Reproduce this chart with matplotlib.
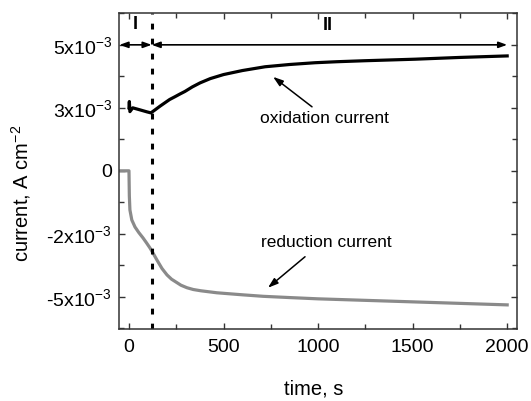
import numpy as np
import matplotlib
matplotlib.use('Agg')
import matplotlib.pyplot as plt
from matplotlib.ticker import MultipleLocator, FixedLocator

plt.rcParams['font.family'] = ['Liberation Sans', 'DejaVu Sans']
plt.rcParams['mathtext.fontset'] = 'custom'
plt.rcParams['mathtext.rm'] = 'Liberation Sans'
plt.rcParams['mathtext.default'] = 'rm'
plt.rcParams['lines.scale_dashes'] = False

# oxidation current (black), in 1e-3 A cm^-2
ox_t = [0, 2, 5, 20, 58, 95, 116, 138, 165, 190, 215, 243, 270, 296, 335, 376, 430, 500, 600,
        720, 850, 984, 1100, 1250, 1513, 1750, 2000]
ox_v = [2.5, 2.75, 2.35, 2.5, 2.42, 2.34, 2.30, 2.42, 2.57, 2.7, 2.83, 2.94, 3.05, 3.15, 3.33,
        3.49, 3.66, 3.82, 3.98, 4.13, 4.22, 4.29, 4.33, 4.37, 4.43, 4.50, 4.56]

# reduction current (gray)
red_t = [-48, 0, 2, 5, 15, 32, 52, 74, 92, 111, 130, 148, 175, 201, 225, 250, 275, 307, 340,
         380, 465, 600, 710, 850, 1000, 1250, 1500, 1750, 2000]
red_v = [0, 0, -1.0, -1.55, -1.95, -2.23, -2.45, -2.66, -2.85, -3.06, -3.3, -3.54, -3.88,
         -4.13, -4.3, -4.42, -4.54, -4.64, -4.71, -4.76, -4.84, -4.92, -4.98, -5.03, -5.08,
         -5.14, -5.2, -5.26, -5.32]

t_switch = 120
y_ticks = [-5e-3, -2.5e-3, 0, 2.5e-3, 5e-3]
y_ticklabels = [r'-5x10$^{-3}$', r'-2x10$^{-3}$', '0', r'3x10$^{-3}$', r'5x10$^{-3}$']
x_ticks = [0, 500, 1000, 1500, 2000]

fig = plt.figure(figsize=(5.31, 4.01), dpi=100)
ax = fig.add_axes([0.224, 0.180, 0.750, 0.788])

ax.plot(ox_t, np.array(ox_v) * 1e-3, color='black', lw=2.3, solid_joinstyle='round')
ax.plot(red_t, np.array(red_v) * 1e-3, color='#8a8a8a', lw=2.3, solid_joinstyle='round')
ax.axvline(t_switch, color='black', lw=2.2, linestyle=(0, (4.2, 6.6)))

# region arrows
ax.annotate('', xy=(-50, 5e-3), xytext=(t_switch, 5e-3),
            arrowprops=dict(arrowstyle='<|-|>,head_length=0.5,head_width=0.18',
                            color='black', lw=1.2, shrinkA=0, shrinkB=0))
ax.annotate('', xy=(t_switch, 5e-3), xytext=(2000, 5e-3),
            arrowprops=dict(arrowstyle='<|-|>,head_length=0.5,head_width=0.18',
                            color='black', lw=1.2, shrinkA=0, shrinkB=0))
ax.text(32, 5.79e-3, 'I', ha='center', va='center', fontsize=13, fontweight='bold')
ax.text(1053, 5.75e-3, 'II', ha='center', va='center', fontsize=13, fontweight='bold')

# curve labels
ax.text(1032, 2.06e-3, 'oxidation current', ha='center', va='center', fontsize=12.5)
ax.annotate('', xy=(762, 3.73e-3), xytext=(968, 2.54e-3),
            arrowprops=dict(arrowstyle='-|>,head_length=0.6,head_width=0.2',
                            color='black', lw=1.1, shrinkA=0, shrinkB=0))
ax.text(1045, -2.86e-3, 'reduction current', ha='center', va='center', fontsize=12.5)
ax.annotate('', xy=(735, -4.64e-3), xytext=(931, -3.41e-3),
            arrowprops=dict(arrowstyle='-|>,head_length=0.6,head_width=0.2',
                            color='black', lw=1.1, shrinkA=0, shrinkB=0))

ax.set_xlim(-53, 2053)
ax.set_ylim(-6.27e-3, 6.27e-3)
ax.xaxis.set_major_locator(FixedLocator(x_ticks))
ax.xaxis.set_minor_locator(MultipleLocator(250))
ax.yaxis.set_major_locator(FixedLocator(y_ticks))
ax.yaxis.set_minor_locator(MultipleLocator(1.25e-3))
ax.set_yticklabels(y_ticklabels)

ax.tick_params(which='both', direction='in', top=True, right=True, width=1.0, color='#333333')
ax.tick_params(which='major', length=4.5)
ax.tick_params(which='minor', length=3.5)
ax.tick_params(axis='x', labelsize=14, pad=7)
ax.tick_params(axis='y', labelsize=14, pad=5)
for s in ax.spines.values():
    s.set_linewidth(1.1)
    s.set_color('#333333')

ax.set_xlabel('time, s', fontsize=14.5)
ax.set_ylabel(r'current, A cm$^{-2}$', fontsize=14.5)
ax.xaxis.set_label_coords(0.49, -0.16)
ax.yaxis.set_label_coords(-0.215, 0.43)

fig.savefig('out.png', dpi=100)
